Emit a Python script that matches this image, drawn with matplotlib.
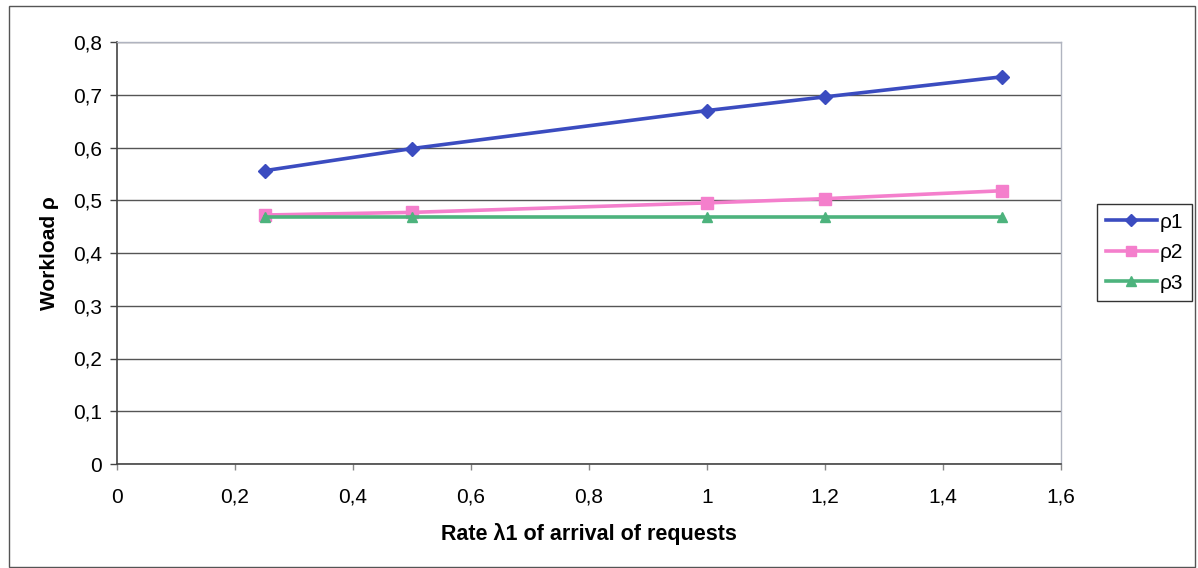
import numpy as np
import matplotlib.pyplot as plt
from matplotlib.patches import Rectangle

plt.rcParams['font.family'] = ['Liberation Sans', 'DejaVu Sans']

# arrival rate of requests and resulting workloads
rate = [0.25, 0.5, 1.0, 1.2, 1.5]
rho1 = [0.556, 0.598, 0.670, 0.696, 0.734]
rho2 = [0.472, 0.477, 0.495, 0.503, 0.518]
rho3 = [0.469, 0.469, 0.469, 0.469, 0.469]
names = ['ρ1', 'ρ2', 'ρ3']

xticks = [0, 0.2, 0.4, 0.6, 0.8, 1.0, 1.2, 1.4, 1.6]
yticks = [0, 0.1, 0.2, 0.3, 0.4, 0.5, 0.6, 0.7, 0.8]

W, H = 1198, 568
fig = plt.figure(figsize=(W / 100, H / 100), dpi=100)
fig.patch.set_facecolor('white')

# outer frame of the chart
fig.patches.append(Rectangle((9 / W, 1 - 567 / H), (1195 - 9) / W, (567 - 6) / H,
                             transform=fig.transFigure, fill=False,
                             edgecolor='#555555', linewidth=1.0))

left, right, top, bottom = 117, 1061, 42, 464
ax = fig.add_axes([left / W, 1 - bottom / H, (right - left) / W, (bottom - top) / H])

ax.plot(rate, rho1, color='#3b4cc0', lw=2.6, marker='D', ms=7, label=names[0])
ax.plot(rate, rho2, color='#f47fcc', lw=2.6, marker='s', ms=8.5, label=names[1])
ax.plot(rate, rho3, color='#4db37d', lw=2.6, marker='^', ms=7.5, label=names[2])

ax.set_xlim(0, 1.6)
ax.set_ylim(0, 0.8)
ax.set_xticks(xticks)
ax.set_yticks(yticks)
ax.set_xticklabels([('%g' % v).replace('.', ',') for v in xticks], fontsize=15)
ax.set_yticklabels([('%g' % v).replace('.', ',') for v in yticks], fontsize=15)
ax.tick_params(axis='y', length=5, width=1, color='#444444', pad=6)
ax.tick_params(axis='x', length=4, width=1, color='#888888', pad=13)

ax.grid(axis='y', color='#555555', lw=1.0)
ax.set_axisbelow(True)
for s in ['top', 'right']:
    ax.spines[s].set_color('#b0b4c0')
    ax.spines[s].set_linewidth(1.0)
for s in ['left', 'bottom']:
    ax.spines[s].set_color('#444444')
    ax.spines[s].set_linewidth(1.2)

ax.set_xlabel('Rate λ1 of arrival of requests', fontsize=15.5, fontweight='bold', labelpad=12)
ax.set_ylabel('Workload ρ', fontsize=15, fontweight='bold', labelpad=10)

leg = ax.legend(loc='upper left', bbox_to_anchor=(1097 / W, 1 - 204 / H),
                bbox_transform=fig.transFigure, borderaxespad=0, fancybox=False,
                edgecolor='#333333', fontsize=15, handlelength=2.45, handletextpad=0.15,
                labelspacing=0.55, borderpad=0.42, framealpha=1, markerscale=0.9)
leg.get_frame().set_linewidth(1.0)

fig.savefig('out.png', dpi=100)
